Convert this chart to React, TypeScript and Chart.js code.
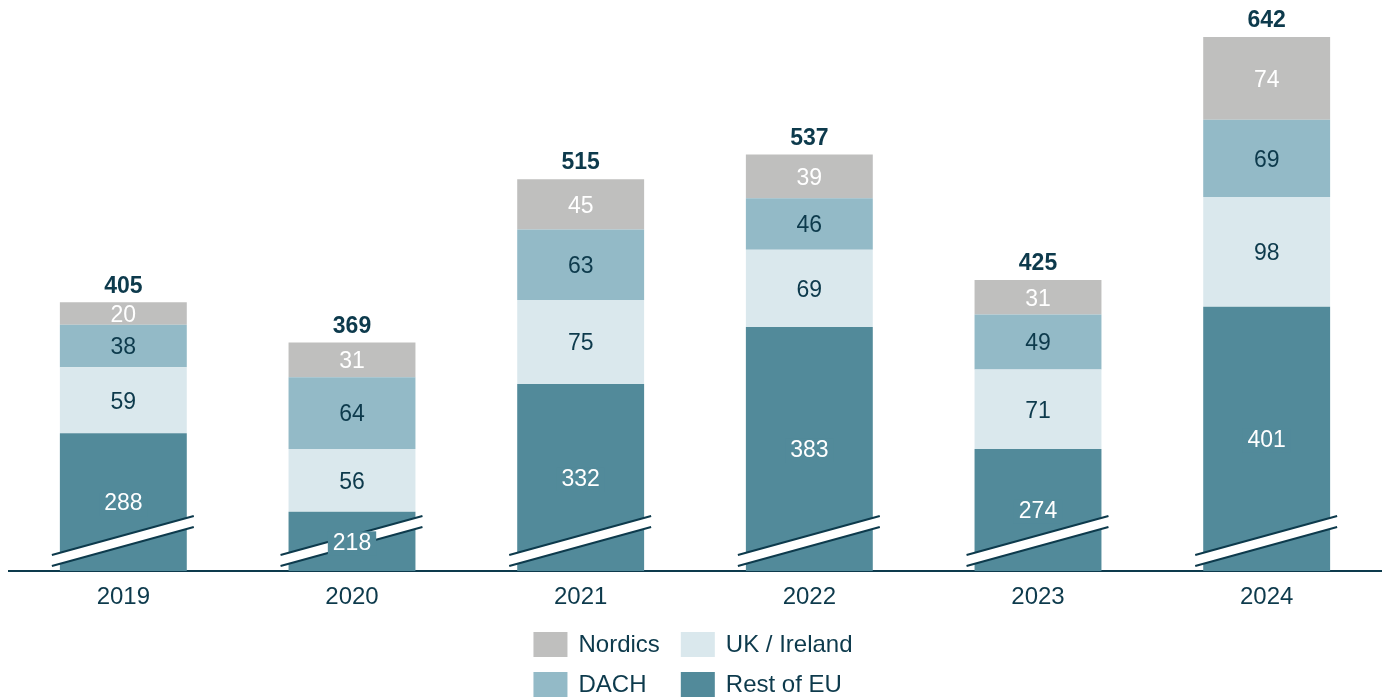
import React, { useEffect, useRef } from "react";
import { Chart, registerables } from "chart.js";

Chart.register(...registerables);

const years = ["2019", "2020", "2021", "2022", "2023", "2024"];
const restOfEU = [288, 218, 332, 383, 274, 401];
const ukIreland = [59, 56, 75, 69, 71, 98];
const dach = [38, 64, 63, 46, 49, 69];
const nordics = [20, 31, 45, 39, 31, 74];

const seriesLabels = ["Rest of EU", "UK / Ireland", "DACH", "Nordics"];
const seriesColors = ["#528A9A", "#DAE8ED", "#93BAC7", "#BFBFBE"];
const labelColors = ["#FFFFFF", "#0D3A4C", "#0D3A4C", "#FFFFFF"];
const legendOrder = [3, 1, 2, 0];

const DARK = "#0D3A4C";
const FONT = "'Liberation Sans', Arial, sans-serif";

const breakPlugin = {
  id: "axisBreak",
  afterDatasetsDraw(chart: any) {
    const ctx = chart.ctx;
    const area = chart.chartArea;
    const meta0 = chart.getDatasetMeta(0);
    ctx.save();
    // break markers
    meta0.data.forEach((el: any) => {
      const w = el.width;
      const x1 = el.x - w / 2 - 8;
      const x2 = el.x + w / 2 + 7;
      const yb1 = area.bottom - 5;
      const yb2 = area.bottom - 44;
      const gap = 11;
      ctx.beginPath();
      ctx.moveTo(x1, yb1);
      ctx.lineTo(x2, yb2);
      ctx.lineTo(x2, yb2 - gap);
      ctx.lineTo(x1, yb1 - gap);
      ctx.closePath();
      ctx.fillStyle = "#FFFFFF";
      ctx.fill();
      ctx.strokeStyle = DARK;
      ctx.lineWidth = 2;
      ctx.beginPath();
      ctx.moveTo(x1, yb1);
      ctx.lineTo(x2, yb2);
      ctx.moveTo(x1, yb1 - gap);
      ctx.lineTo(x2, yb2 - gap);
      ctx.stroke();
    });
    // segment labels
    ctx.font = `23px ${FONT}`;
    ctx.textAlign = "center";
    ctx.textBaseline = "middle";
    chart.data.datasets.forEach((ds: any, di: number) => {
      const meta = chart.getDatasetMeta(di);
      meta.data.forEach((el: any, i: number) => {
        const top = el.y;
        const bottom = Math.min(el.base, area.bottom);
        const cy = (top + bottom) / 2 + 2;
        const txt = String(ds.data[i]);
        if (di === 0) {
          const tw = ctx.measureText(txt).width;
          ctx.fillStyle = seriesColors[0];
          ctx.fillRect(el.x - tw / 2 - 5, cy - 12, tw + 10, 24);
        }
        ctx.fillStyle = labelColors[di];
        ctx.fillText(txt, el.x, cy);
      });
    });
    // totals
    const lastMeta = chart.getDatasetMeta(chart.data.datasets.length - 1);
    ctx.font = `bold 23px ${FONT}`;
    ctx.fillStyle = DARK;
    lastMeta.data.forEach((el: any, i: number) => {
      const total = restOfEU[i] + ukIreland[i] + dach[i] + nordics[i];
      ctx.fillText(String(total), el.x, el.y - 16);
    });
    ctx.restore();
  },
  afterDraw(chart: any) {
    const ctx = chart.ctx;
    ctx.save();
    ctx.font = `24px ${FONT}`;
    ctx.textBaseline = "middle";
    ctx.textAlign = "left";
    const boxW = 34;
    const boxH = 25;
    const boxGap = 11;
    const colGap = 21;
    const col1 = [legendOrder[0], legendOrder[2]];
    const col2 = [legendOrder[1], legendOrder[3]];
    const w1 = Math.max(...col1.map((d) => ctx.measureText(seriesLabels[d]).width));
    const w2 = Math.max(...col2.map((d) => ctx.measureText(seriesLabels[d]).width));
    const total = boxW + boxGap + w1 + colGap + boxW + boxGap + w2;
    const startX = chart.width / 2 - total / 2;
    const colX = [startX, startX + boxW + boxGap + w1 + colGap];
    const rowY = [644.5, 684.5];
    legendOrder.forEach((d, k) => {
      const row = Math.floor(k / 2);
      const col = k % 2;
      const x = colX[col];
      const y = rowY[row];
      ctx.fillStyle = seriesColors[d];
      ctx.fillRect(x, y - boxH / 2, boxW, boxH);
      ctx.fillStyle = DARK;
      ctx.fillText(seriesLabels[d], x + boxW + boxGap, y + 1);
    });
    ctx.restore();
  },
};

export default function App() {
  const ref = useRef<HTMLCanvasElement | null>(null);
  useEffect(() => {
    if (!ref.current) return;
    const seriesData = [restOfEU, ukIreland, dach, nordics];
    const chart = new Chart(ref.current, {
      type: "bar",
      data: {
        labels: years,
        datasets: seriesData.map((d, i) => ({
          label: seriesLabels[i],
          data: d,
          backgroundColor: seriesColors[i],
          borderWidth: 0,
          barPercentage: 0.555,
          categoryPercentage: 1,
        })),
      },
      options: {
        animation: false,
        responsive: true,
        maintainAspectRatio: false,
        layout: { padding: { left: 9, right: 5, top: 0, bottom: 0 } },
        plugins: {
          legend: { display: false },
          tooltip: { enabled: false },
        },
        scales: {
          x: {
            stacked: true,
            z: 1,
            grid: { display: false, drawTicks: false },
            border: { display: true, color: DARK, width: 2 },
            ticks: {
              color: DARK,
              padding: 12,
              font: { family: FONT, size: 24 },
            },
            afterFit: (scale: any) => {
              scale.height = 129;
            },
          },
          y: {
            stacked: true,
            display: false,
            min: 165,
            max: 675,
          },
        },
      },
      plugins: [breakPlugin],
    });
    return () => chart.destroy();
  }, []);
  return (
    <div style={{ position: "fixed", left: 0, top: 0, width: 1386, height: 700 }}>
      <canvas ref={ref} />
    </div>
  );
}
